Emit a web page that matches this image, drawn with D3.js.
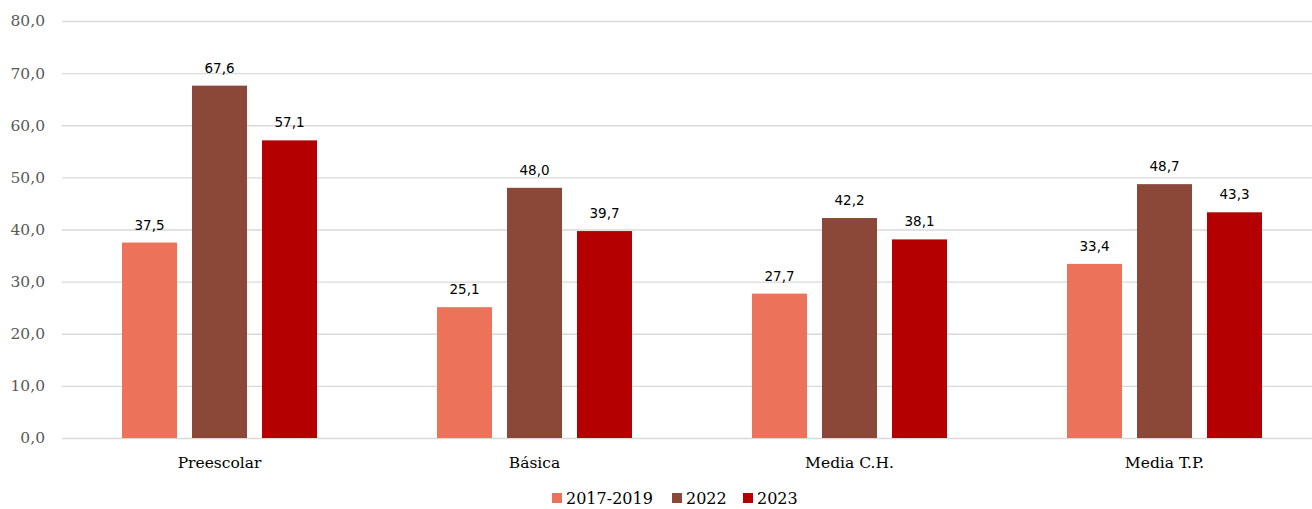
<!DOCTYPE html>
<head>
	<meta charset="utf-8" />
	<style>
		body {
			margin: 0;
			background-color: #fff;
			overflow: hidden;
		}
		.tick text {
			font-family: 'DejaVu Serif', 'Liberation Serif', serif;
		}
	</style>
</head>
<body>
	<div id="chart-area"></div>
	<script src="https://cdnjs.cloudflare.com/ajax/libs/d3/7.8.5/d3.min.js"></script>
	<script>
		const categories = ['Preescolar', 'Básica', 'Media C.H.', 'Media T.P.'];
		const series = ['2017-2019', '2022', '2023'];
		const values2017 = [37.5, 25.1, 27.7, 33.4];
		const values2022 = [67.6, 48.0, 42.2, 48.7];
		const values2023 = [57.1, 39.7, 38.1, 43.3];
		const yTicks = [0, 10, 20, 30, 40, 50, 60, 70, 80];
		const colors = ['#ec735a', '#8b4738', '#b40000'];

		const width = 1312,
			height = 509;
		const margins = { top: 21, left: 62, right: -10, bottom: 71 };

		const data = categories.map((c, i) => ({
			cat: c,
			vals: [values2017[i], values2022[i], values2023[i]],
		}));

		const fmt = v => d3.format('.1f')(v).replace('.', ',');

		const svg = d3
			.select('#chart-area')
			.append('svg')
			.attr('width', width)
			.attr('height', height);

		const x = d3
			.scaleBand()
			.domain(categories)
			.range([margins.left, width - margins.right]);

		const xInner = d3
			.scaleBand()
			.domain(series)
			.range([60, 255])
			.paddingInner(0.214);

		const y = d3
			.scaleLinear()
			.domain([0, 80])
			.range([height - margins.bottom, margins.top]);

		// grid + y labels
		const yAxis = svg
			.append('g')
			.attr('transform', `translate(${margins.left},0)`)
			.call(
				d3
					.axisLeft(y)
					.tickValues(yTicks)
					.tickSize(-(width - margins.left))
					.tickPadding(17)
					.tickFormat(fmt)
			);
		yAxis.select('.domain').remove();
		yAxis.selectAll('.tick line').attr('stroke', '#d9d9d9').attr('stroke-width', 1.3);
		yAxis
			.selectAll('.tick text')
			.attr('fill', '#595959')
			.style('font-size', '15.5px');

		// x labels
		const xAxis = svg
			.append('g')
			.attr('transform', `translate(0,${height - margins.bottom})`)
			.call(d3.axisBottom(x).tickSize(0).tickPadding(19));
		xAxis.select('.domain').remove();
		xAxis
			.selectAll('.tick text')
			.attr('fill', '#000')
			.style('font-size', '15.5px');

		const groups = svg
			.append('g')
			.selectAll('g')
			.data(data)
			.join('g')
			.attr('transform', d => `translate(${x(d.cat)},0)`);

		groups
			.selectAll('rect')
			.data(d => d.vals.map((v, i) => ({ key: series[i], v, i })))
			.join('rect')
			.attr('x', d => xInner(d.key))
			.attr('width', xInner.bandwidth())
			.attr('y', d => y(d.v))
			.attr('height', d => y(0) - y(d.v))
			.attr('fill', d => colors[d.i]);

		groups
			.selectAll('text.lbl')
			.data(d => d.vals.map((v, i) => ({ key: series[i], v, i })))
			.join('text')
			.attr('class', 'lbl')
			.attr('x', d => xInner(d.key) + xInner.bandwidth() / 2)
			.attr('y', d => y(d.v) - 13)
			.attr('text-anchor', 'middle')
			.style('font-family', "'DejaVu Sans', sans-serif")
			.style('font-size', '13.5px')
			.attr('fill', '#000')
			.text(d => fmt(d.v));

		// legend
		const legendX = [0, 120, 191];
		const legend = svg
			.append('g')
			.attr('transform', `translate(552,${height - 5})`);
		series.forEach((s, i) => {
			const g = legend.append('g').attr('transform', `translate(${legendX[i]},0)`);
			g.append('rect')
				.attr('x', 0)
				.attr('y', -11)
				.attr('width', 10)
				.attr('height', 10)
				.attr('fill', colors[i]);
			g.append('text')
				.attr('x', 14)
				.attr('y', 0)
				.style('font-family', "'DejaVu Serif', 'Liberation Serif', serif")
				.style('font-size', '16px')
				.attr('fill', '#000')
				.text(s);
		});
	</script>
</body>
